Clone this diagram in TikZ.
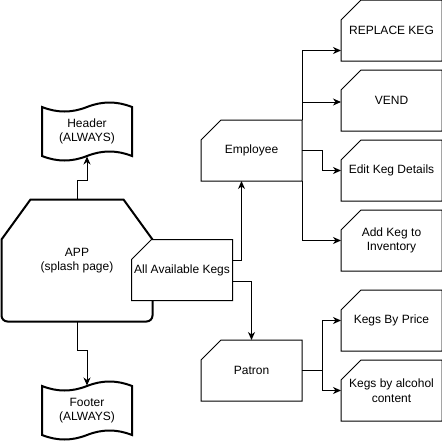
\documentclass[tikz,border=0pt]{standalone}
\usepackage{fontspec}
\setmainfont{Liberation Sans}
\usetikzlibrary{arrows.meta}
\begin{document}
\begin{tikzpicture}[x=1pt,y=-1pt,line width=1pt,
		every node/.style={align=center,font=\fontsize{12}{14.5}\selectfont},
		box/.style={minimum width=100pt,minimum height=60pt,inner sep=0pt,fill=white},
		bigbox/.style={minimum width=150pt,minimum height=121pt,inner sep=0pt},
		tapebox/.style={minimum width=90pt,minimum height=49pt,inner sep=0pt},
		thickline/.style={line width=2pt},
		arr/.style={-{Stealth[length=8pt,width=7pt,inset=2.5pt]}}]
		\useasboundingbox (0,0) rectangle (442,442);

		% header and footer
		\node[tapebox] (header) at (87,131.5) {Header\\(ALWAYS)};
		\node[tapebox] (footer) at (87,410.5) {Footer\\(ALWAYS)};
		\foreach \n in {header,footer}
			\draw[thickline,shift={(\n.center)}] (-45,-24.5) .. controls (-30,-18.5) and (-15,-18.5) .. (0,-24.5)
				.. controls (15,-30.5) and (30,-30.5) .. (45,-24.5) -- (45,24.5)
				.. controls (30,18.5) and (15,18.5) .. (0,24.5)
				.. controls (-15,30.5) and (-30,30.5) .. (-45,24.5) -- cycle;

		% app
		\node[bigbox] (app) at (77,260.5) {APP\\(splash page)};
		\draw[thickline] ([yshift=-40pt]app.north west) -- ([xshift=29pt]app.north west)
			-- ([xshift=-29pt]app.north east) -- ([yshift=-40pt]app.north east)
			[rounded corners=6pt] -- (app.south east) -- (app.south west) [sharp corners] -- cycle;

		\node[box] (kegs) at (182,270) {All Available Kegs};
		\node[box] (emp) at (251.5,150.5) {Employee};
		\node[box] (patron) at (251.5,370.5) {Patron};

		\node[box] (replace) at (391.5,30.5) {REPLACE KEG};
		\node[box] (vend) at (391.5,100.5) {VEND};
		\node[box] (edit) at (391.5,170.5) {Edit Keg Details};
		\node[box] (addkeg) at (391.5,240.5) {Add Keg to\\Inventory};
		\node[box] (byprice) at (391.5,320.5) {Kegs By Price};
		\node[box] (byalcohol) at (391.5,390.5) {Kegs by alcohol\\content};

		\foreach \n in {kegs,emp,patron,replace,vend,edit,addkeg,byprice,byalcohol}
			\draw ([yshift=-20pt]\n.north west) -- ([xshift=20pt]\n.north west) -- (\n.north east)
				-- (\n.south east) -- (\n.south west) -- cycle;

		% arrows
		\draw[arr] (app.north) -- ++(0,-19) -| (header.south);
		\draw[arr] (app.south) -- ++(0,29) -| (footer.north);
		\draw[arr] ([yshift=10pt]kegs.east) -| ([xshift=-10pt]emp.south);
		\draw[arr] ([yshift=-11pt]kegs.east) -| (patron.north);

		\draw[arr] (emp.north east) |- ([yshift=-20pt]replace.west);
		\draw[arr] (emp.north east) |- ([yshift=-1.5pt]vend.west);
		\draw[arr] (emp.east) -- ++(20,0) |- (edit.west);
		\draw[arr] (emp.south east) |- (addkeg.west);
		\draw[arr] (patron.east) -- ++(20,0) |- (byprice.west);
		\draw[arr] (patron.east) -- ++(20,0) |- (byalcohol.west);
	\end{tikzpicture}
\end{document}
